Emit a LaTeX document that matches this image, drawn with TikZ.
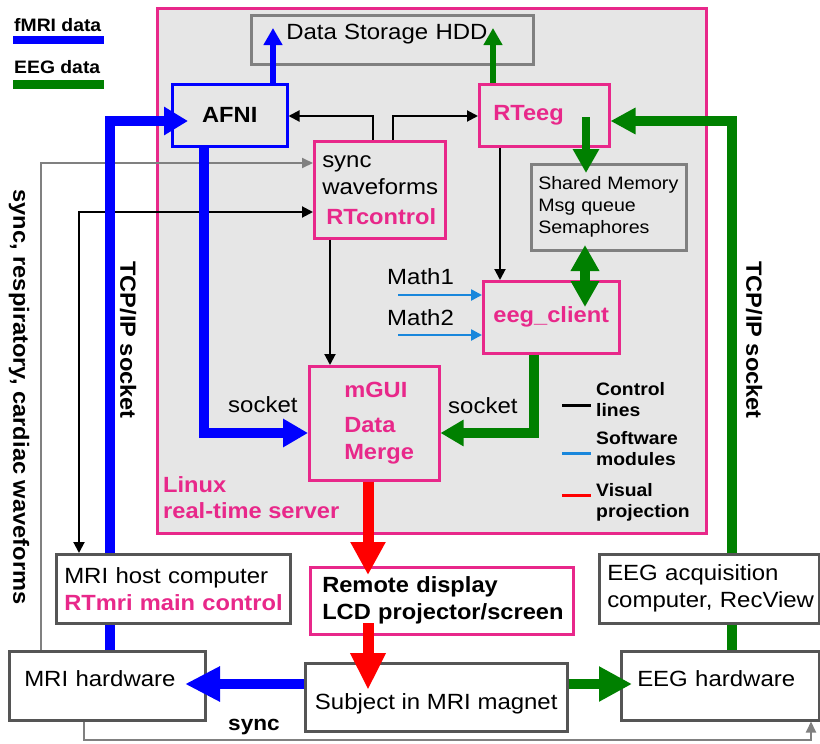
\documentclass[tikz,border=0pt]{standalone}
\usepackage{fontspec}
\setmainfont{Liberation Sans}[UprightFeatures={FakeStretch=1.09},BoldFeatures={FakeStretch=1.075}]
\usetikzlibrary{arrows.meta,calc}
\definecolor{pinkc}{RGB}{232,40,138}
\definecolor{srvgray}{RGB}{230,230,230}
\definecolor{boxgray}{RGB}{128,128,128}
\definecolor{darkbox}{RGB}{85,85,85}
\definecolor{fblue}{RGB}{0,0,255}
\definecolor{egreen}{RGB}{0,128,0}
\definecolor{vred}{RGB}{255,0,0}
\definecolor{mblue}{RGB}{25,135,220}
\begin{document}
\fontsize{22}{27}\selectfont
\begin{tikzpicture}[x=1pt,y=-1pt, line join=miter,
  pinkbox/.style={draw=pinkc, line width=2.5pt, anchor=north west, inner ysep=0pt},
  graybox/.style={draw=boxgray, line width=2.5pt, anchor=north west, inner ysep=0pt},
  dkbox/.style={draw=darkbox, line width=2.5pt, fill=white, anchor=north west, inner ysep=0pt},
  ctl/.style={draw=black, line width=2pt, -{Triangle[length=11pt,width=11pt]}},
  ctltwo/.style={draw=black, line width=2pt, {Triangle[length=11pt,width=11pt]}-{Triangle[length=11pt,width=11pt]}},
  gline/.style={draw=boxgray, line width=2pt, -{Triangle[length=11pt,width=10pt]}},
  mline/.style={draw=mblue, line width=2.5pt, -{Triangle[length=11pt,width=11pt]}},
  fmri/.style={draw=fblue, line width=10pt},
  eeg/.style={draw=egreen, line width=10pt},
  vis/.style={draw=vred, line width=11pt},
  lbl/.style={anchor=base west, inner sep=0pt},
  small/.style={font=\fontsize{18}{22}\selectfont\bfseries},
]
\useasboundingbox (0,0) rectangle (820,744);

% server area
\node[draw=pinkc, line width=2.5pt, fill=srvgray, anchor=north west, minimum width=549pt, minimum height=525pt, inner sep=0pt] (server) at (156,7) {};

% boxes
\node[graybox, minimum width=282pt, minimum height=49pt, text width=212pt, inner xsep=35pt, text height=24pt, text depth=25pt, align=left] (hdd) at (250,14) {\mbox{Data Storage HDD}};
\node[draw=fblue, line width=2.5pt, anchor=north west, minimum width=115pt, minimum height=62pt, font=\bfseries] (afni) at (171,83) {AFNI};
\node[pinkbox, minimum width=130pt, minimum height=62pt, text width=102pt, inner xsep=14pt, align=left] (rteeg) at (478,83) {\mbox{\textbf{\color{pinkc}RTeeg}}};
\node[pinkbox, minimum width=131pt, minimum height=97pt, text width=115pt, inner xsep=8pt, align=left] (rtctl) at (313,140) {\mbox{sync}\\\mbox{waveforms}\\[3pt]\mbox{\hspace*{4pt}\textbf{\color{pinkc}RTcontrol}}};
\node[graybox, minimum width=155pt, minimum height=86pt, text width=141pt, inner xsep=7pt, align=left, font=\fontsize{18}{22}\selectfont] (shm) at (530,163) {\mbox{Shared Memory}\\\mbox{Msg queue}\\\mbox{Semaphores}};
\node[pinkbox, minimum width=136pt, minimum height=72pt, font=\bfseries, text=pinkc] (eegc) at (482,280) {eeg\_client};
\node[pinkbox, minimum width=130pt, minimum height=114pt, text width=60pt, inner xsep=35pt, align=left, font=\bfseries, text=pinkc] (mgui) at (308,365) {\mbox{mGUI}\\[8pt]\mbox{Data}\\\mbox{Merge}};
\node[pinkbox, fill=white, minimum width=263pt, minimum height=67pt, text width=239pt, inner xsep=12pt, align=left, font=\bfseries] (remote) at (309,566) {\mbox{Remote display}\\\mbox{LCD projector/screen}};
\node[dkbox, minimum width=234pt, minimum height=69pt, text width=218pt, inner xsep=8pt, align=left] (mrihost) at (55,553) {\mbox{MRI host computer}\\\mbox{\textbf{\color{pinkc}RTmri main control}}};
\node[dkbox, minimum width=220pt, minimum height=69pt, text width=204pt, inner xsep=8pt, align=left] (eegacq) at (598,553) {\mbox{EEG acquisition}\\\mbox{computer, RecView}};
\node[dkbox, minimum width=196pt, minimum height=69pt, text width=166pt, inner xsep=15pt, align=left, text height=16pt, text depth=15pt] (mrihw) at (8,650) {\mbox{MRI hardware}};
\node[dkbox, minimum width=262pt, minimum height=68pt, text height=28pt, text depth=4pt] (subject) at (304,662) {Subject in MRI magnet};
\node[dkbox, minimum width=198pt, minimum height=69pt, text width=166pt, inner xsep=16pt, align=left, text height=16pt, text depth=15pt] (eeghw) at (620,650) {\mbox{EEG hardware}};

% named points
\coordinate (hA) at (273,28);
\coordinate (hE) at (493,28);
\coordinate (c1) at (373,116);
\coordinate (c2) at (393,116);
\coordinate (g1) at (41,163);
\coordinate (k1) at (79,212);
\coordinate (b1) at (110,121);
\coordinate (afniIn) at (188,121);
\coordinate (b2) at (204,433);
\coordinate (k2) at (330,0);
\coordinate (k3) at (500,0);
\coordinate (gS) at (586,117);
\coordinate (gT) at (586,173);
\coordinate (dA) at (585,245);
\coordinate (dB) at (585,307);
\coordinate (e1) at (732,121);
\coordinate (e2) at (534,433);
\coordinate (m1) at (398,295);
\coordinate (m2) at (398,335);
\coordinate (r1) at (368,575);
\coordinate (r2) at (368,623);
\coordinate (r3) at (368,690);
\coordinate (s1) at (185,684);
\coordinate (s2) at (632,684);
\coordinate (g2) at (84,740);
\coordinate (g3) at (811,740);

% control / thin lines
\draw[ctl] (rtctl.north -| c1) |- (afni.east |- c1);
\draw[ctl] (rtctl.north -| c2) |- (rteeg.west |- c2);
\draw[gline] (mrihw.north -| g1) |- (rtctl.west |- g1);
\draw[ctltwo] (rtctl.west |- k1) -| (mrihost.north -| k1);
\draw[ctl] (rtctl.south -| k2) -- (mgui.north -| k2);
\draw[ctl] (rteeg.south -| k3) -- (eegc.north -| k3);
\draw[mline] (m1) -- (eegc.west |- m1);
\draw[mline] (m2) -- (eegc.west |- m2);
\draw[gline] (mrihw.south -| g2) -- (g2) -- (g3) -- (eeghw.south -| g3);

% thick data lines
\draw[fblue, line width=6pt, -{Triangle[length=17pt,width=18pt]}] (afni.north -| hA) -- (hA);
\draw[egreen, line width=6pt, -{Triangle[length=17pt,width=18pt]}] (rteeg.north -| hE) -- (hE);
\draw[fmri] (mrihw.north -| b1) -- (mrihost.south -| b1);
\draw[fmri, -{Triangle[length=24pt,width=27pt]}] (mrihost.north -| b1) |- (afniIn);
\draw[fmri, -{Triangle[length=25pt,width=27pt]}] (afni.south -| b2) |- (mgui.west |- b2);
\draw[eeg] (eeghw.north -| e1) -- (eegacq.south -| e1);
\draw[eeg, -{Triangle[length=25pt,width=25pt]}] (eegacq.north -| e1) |- (rteeg.east |- e1);
\draw[eeg, line width=8pt, -{Triangle[length=24pt,width=25pt]}] (gS) -- (gT);
\draw[eeg, {Triangle[length=26pt,width=27pt]}-{Triangle[length=26pt,width=27pt]}] (dA) -- (dB);
\draw[eeg, -{Triangle[length=23pt,width=25pt]}] (eegc.south -| e2) |- (mgui.east |- e2);
\draw[vis, -{Triangle[length=33pt,width=33pt]}] (mgui.south -| r1) -- (r1);
\draw[vis, -{Triangle[length=37pt,width=33pt]}] (r2) -- (r3);
\draw[fmri, -{Triangle[length=35pt,width=33pt]}] (subject.west |- s1) -- (s1);
\draw[eeg, -{Triangle[length=33pt,width=33pt]}] (subject.east |- s1) -- (s2);

% top-left legend
\node[lbl, small] (legf) at (14,31) {fMRI data};
\draw[fblue, line width=8pt] (13,40) -- (104,40);
\node[lbl, small] (lege) at (14,73) {EEG data};
\draw[egreen, line width=9pt] (13,84.5) -- (104,84.5);

% inner legend
\draw[black, line width=3pt] (562,405) -- (591,405);
\node[lbl, small] (lc1) at (596,395) {Control};
\node[lbl, small] (lc2) at (596,416) {lines};
\draw[mblue, line width=3pt] (562,453) -- (591,453);
\node[lbl, small] (ls1) at (596,444) {Software};
\node[lbl, small] (ls2) at (596,465) {modules};
\draw[vred, line width=3pt] (562,495) -- (591,495);
\node[lbl, small] (lv1) at (596,496) {Visual};
\node[lbl, small] (lv2) at (596,517) {projection};

% labels
\node[lbl] (sockL) at (228,412) {socket};
\node[lbl] (sockR) at (448,413) {socket};
\node[lbl] (math1) at (387,284) {Math1};
\node[lbl] (math2) at (387,325) {Math2};
\node[lbl, font=\bfseries, text=pinkc] (linux) at (163,492) {Linux};
\node[lbl, font=\bfseries, text=pinkc] (rts) at (163,518) {real-time server};
\node[lbl, font=\fontsize{21}{25}\selectfont\bfseries] (syncb) at (228,730) {sync};
\node[rotate=-90, font=\bfseries] (tcpL) at (128,340) {TCP/IP socket};
\node[rotate=-90, font=\bfseries] (tcpR) at (754,340) {TCP/IP socket};
\node[rotate=-90, font=\bfseries] (syncwf) at (19,397) {sync, respiratory, cardiac waveforms};
\end{tikzpicture}
\end{document}
